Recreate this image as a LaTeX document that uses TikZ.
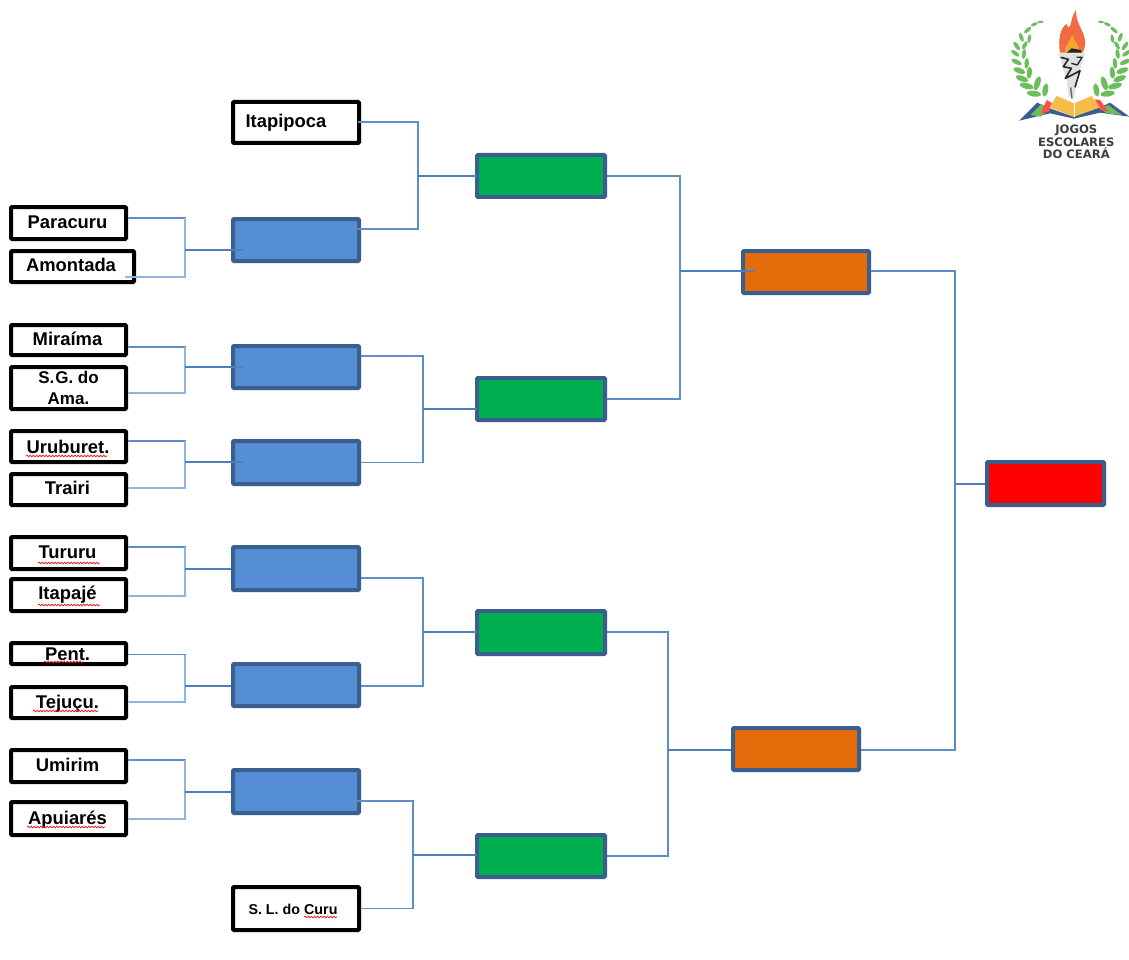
\documentclass[tikz,border=0pt]{standalone}
\usepackage{fontspec}
\setmainfont{Liberation Sans}
\newfontfamily\logofont{DejaVu Sans}
\usetikzlibrary{decorations.pathmorphing}
\definecolor{edgeblue}{HTML}{3A5F8F}
\definecolor{fillblue}{HTML}{558ED5}
\definecolor{linedark}{HTML}{5F8EC6}
\definecolor{linelight}{HTML}{93B5DD}
\definecolor{stemblue}{HTML}{4E7FBB}
\definecolor{leafgreen}{HTML}{6CBE5C}
\definecolor{logogray}{HTML}{3C3C3C}
\definecolor{flameout}{HTML}{F26B43}
\definecolor{flamein}{HTML}{F7A52B}
\definecolor{pagegold}{HTML}{F6BC45}
\tikzset{
  teambox/.style={draw=black,line width=4pt,fill=white,rounded corners=1pt,inner sep=0pt,align=center,
    font=\fontsize{18.4}{22}\selectfont\bfseries},
  roundbox/.style={draw=edgeblue,line width=4pt,rounded corners=1pt,inner sep=0pt},
  armtop/.style={draw=linedark,line width=1.2pt},
  armlow/.style={draw=linelight,line width=2pt},
  stem/.style={draw=stemblue,line width=1.5pt},
  squig/.style={draw=red,line width=.6pt,decorate,decoration={snake,amplitude=.9pt,segment length=3.2pt}},
  logotext/.style={inner sep=0pt,text=logogray,font=\logofont\fontsize{11.6}{12}\selectfont\bfseries}
}
\newcommand{\tl}[3]{\raisebox{-#1pt}[0pt][0pt]{\kern#2pt #3}}
\newcommand{\lf}[4]{\fill[leafgreen,rotate around={#3:(#1,#2)}] (#1,#2) ellipse[x radius=#4,y radius=.42*#4];}
\begin{document}
\begin{tikzpicture}[x=1pt,y=-1pt]
\useasboundingbox (0,0) rectangle (1129,960);
\fill[white] (0,0) rectangle (1129,960);
% team boxes
\node[teambox,minimum width=126pt,minimum height=41pt] (ita) at (296,122.5) {\tl{5.5}{-20}{Itapipoca}};
\node[teambox,minimum width=115pt,minimum height=32pt] (para) at (68.5,223) {\tl{5}{-2}{Paracuru}};
\node[teambox,minimum width=123pt,minimum height=31pt] (amon) at (72.5,266.5) {\tl{4.5}{-3}{Amontada}};
\node[teambox,minimum width=115pt,minimum height=30pt] (mira) at (68.5,340) {\tl{5}{-2}{Miraíma}};
\node[teambox,minimum width=115pt,minimum height=42pt,font=\fontsize{17}{20.5}\selectfont\bfseries] (sg) at (68.5,388) {S.\kern1pt G. do\\[1pt]Ama.};
\node[teambox,minimum width=115pt,minimum height=31pt] (urub) at (68.5,446.5) {\tl{6.5}{-1}{Uruburet.}};
\node[teambox,minimum width=115pt,minimum height=31pt] (trai) at (68.5,489.5) {\tl{5}{-2}{Trairi}};
\node[teambox,minimum width=115pt,minimum height=32pt] (turu) at (68.5,553) {\tl{5}{-2}{Tururu}};
\node[teambox,minimum width=115pt,minimum height=32pt] (itap) at (68.5,595) {\tl{4}{-2}{Itapajé}};
\node[teambox,minimum width=115pt,minimum height=21pt] (pent) at (68.5,653.5) {\tl{6.5}{-2}{Pent.}};
\node[teambox,minimum width=115pt,minimum height=31pt] (teju) at (68.5,702.5) {\tl{5.5}{-2}{Tejuçu.}};
\node[teambox,minimum width=115pt,minimum height=32pt] (umir) at (68.5,766) {\tl{5}{-2}{Umirim}};
\node[teambox,minimum width=115pt,minimum height=33pt] (apui) at (68.5,818.5) {\tl{5.5}{-2}{Apuiarés}};
\node[teambox,minimum width=126pt,minimum height=43pt,font=\fontsize{14.3}{17}\selectfont\bfseries] (curu) at (296,908.5) {\tl{5.5}{-6}{S. L. do Curu}};
% round boxes
\node[roundbox,fill=fillblue,minimum width=126pt,minimum height=42pt] (b1) at (296,240) {};
\node[roundbox,fill=fillblue,minimum width=126pt,minimum height=42pt] (b2) at (296,367) {};
\node[roundbox,fill=fillblue,minimum width=126pt,minimum height=43pt] (b3) at (296,462.5) {};
\node[roundbox,fill=fillblue,minimum width=126pt,minimum height=43pt] (b4) at (296,568.5) {};
\node[roundbox,fill=fillblue,minimum width=126pt,minimum height=42pt] (b5) at (296,685) {};
\node[roundbox,fill=fillblue,minimum width=126pt,minimum height=43pt] (b6) at (296,791.5) {};
\node[roundbox,fill={rgb,255:red,0;green,176;blue,80},minimum width=128pt,minimum height=42pt] (g1) at (541,176) {};
\node[roundbox,fill={rgb,255:red,0;green,176;blue,80},minimum width=128pt,minimum height=42pt] (g2) at (541,399) {};
\node[roundbox,fill={rgb,255:red,0;green,176;blue,80},minimum width=128pt,minimum height=43pt] (g3) at (541,632.5) {};
\node[roundbox,fill={rgb,255:red,0;green,176;blue,80},minimum width=128pt,minimum height=42pt] (g4) at (541,856) {};
\node[roundbox,fill={rgb,255:red,228;green,108;blue,10},minimum width=126pt,minimum height=42pt] (o1) at (806,272) {};
\node[roundbox,fill={rgb,255:red,228;green,108;blue,10},minimum width=126pt,minimum height=42pt] (o2) at (796,749) {};
\node[roundbox,fill=red,minimum width=117pt,minimum height=43pt] (fin) at (1045.5,483.5) {};
% junctions
\coordinate (j1) at (185,250);
\coordinate (j2) at (185,367);
\coordinate (j3) at (185,462);
\coordinate (j4) at (185,569);
\coordinate (j5) at (185,686);
\coordinate (j6) at (185,792);
\coordinate (j7) at (418,176);
\coordinate (j8) at (423,409);
\coordinate (j9) at (423,632);
\coordinate (j10) at (413,855);
\coordinate (j11) at (680,271);
\coordinate (j12) at (668,750);
\coordinate (j13) at (955,484);
% first round
\draw[armtop] ([yshift=5pt]para.east) -| (j1);
\draw[armlow] ([yshift=5pt]para.east -| j1) -- (j1);
\draw[armlow] ([xshift=-11pt,yshift=-10.5pt]amon.east) -| (j1);
\draw[stem] (j1) -- ([xshift=12pt,yshift=-10pt]b1.west);
\draw[armtop] ([yshift=-7pt]mira.east) -| (j2);
\draw[armlow] ([yshift=-7pt]mira.east -| j2) -- (j2);
\draw[armlow] ([yshift=-5pt]sg.east) -| (j2);
\draw[stem] (j2) -- ([xshift=12pt]b2.west);
\draw[armtop] ([yshift=5.5pt]urub.east) -| (j3);
\draw[armlow] ([yshift=5.5pt]urub.east -| j3) -- (j3);
\draw[armlow] ([yshift=1.5pt]trai.east) -| (j3);
\draw[stem] (j3) -- ([xshift=12pt,yshift=.5pt]b3.west);
\draw[armtop] ([yshift=6pt]turu.east) -| (j4);
\draw[armlow] ([yshift=6pt]turu.east -| j4) -- (j4);
\draw[armlow] ([yshift=-1pt]itap.east) -| (j4);
\draw[stem] (j4) -- ([yshift=-.5pt]b4.west);
\draw[armtop] ([yshift=-1pt]pent.east) -| (j5);
\draw[armlow] ([yshift=-1pt]pent.east -| j5) -- (j5);
\draw[armlow] ([yshift=.5pt]teju.east) -| (j5);
\draw[stem] (j5) -- ([yshift=-1pt]b5.west);
\draw[armtop] ([yshift=6pt]umir.east) -| (j6);
\draw[armlow] ([yshift=6pt]umir.east -| j6) -- (j6);
\draw[armlow] (apui.east) -| (j6);
\draw[stem] (j6) -- ([yshift=-.5pt]b6.west);
% second round
\draw[armtop] ([xshift=-3pt,yshift=.5pt]ita.east) -| (j7);
\draw[armtop] ([xshift=-9pt,yshift=11pt]b1.east) -| (j7);
\draw[stem] (j7) -- ([xshift=2pt]g1.west);
\draw[armtop] ([yshift=11pt]b2.east) -| (j8);
\draw[armtop] (b3.east) -| (j8);
\draw[stem] (j8) -- ([xshift=2pt,yshift=-10pt]g2.west);
\draw[armtop] ([yshift=-9.5pt]b4.east) -| (j9);
\draw[armtop] ([yshift=-1pt]b5.east) -| (j9);
\draw[stem] (j9) -- ([xshift=2pt,yshift=.5pt]g3.west);
\draw[armtop] ([xshift=-9pt,yshift=-9.5pt]b6.east) -| (j10);
\draw[armtop] (curu.east) -| (j10);
\draw[stem] (j10) -- ([xshift=2pt,yshift=1pt]g4.west);
% third round
\draw[armtop] (g1.east) -| (j11);
\draw[armtop] (g2.east) -| (j11);
\draw[stem] (j11) -- ([xshift=14pt,yshift=1pt]o1.west);
\draw[armtop] ([yshift=.5pt]g3.east) -| (j12);
\draw[armtop] (g4.east) -| (j12);
\draw[stem] (j12) -- ([yshift=-1pt]o2.west);
\draw[armtop] ([yshift=1pt]o1.east) -| (j13);
\draw[armtop] ([yshift=-1pt]o2.east) -| (j13);
\draw[stem] (j13) -- ([yshift=-.5pt]fin.west);
% spell-check squiggles
\draw[squig] (26,456) -- (107,456);
\draw[squig] (38,563) -- (100,563);
\draw[squig] (38,605) -- (100,605);
\draw[squig] (44,662) -- (84,662);
\draw[squig] (33,711) -- (98,711);
\draw[squig] (27,827) -- (105,827);
\draw[squig] (304,917) -- (337,917);
% logo
\begin{scope}[shift={(1000,0)},x=.3333pt,y=-.3333pt]
  \foreach \a/\b/\c/\d in {122/66/8/9,103/73/25/11,83/90/40/13,88/116/80/13,64/112/-70/14,
      74/136/60/14,50/138/-55/15,72/162/82/15,46/160/-35/15,80/190/85/16,50/186/-25/17,
      88/218/85/18,58/212/-20/19,66/236/-20/20,112/250/72/21,80/258/-15/21,102/281/-8/21,136/270/80/20}
    {\lf{\a}{\b}{\c}{\d}
     \pgfmathsetmacro{\m}{425-\a}\pgfmathsetmacro{\n}{-\c}
     \lf{\m}{\b}{\n}{\d}}
  \fill[flameout] (180,158) .. controls (172,110) and (185,80) .. (200,72)
     .. controls (205,90) and (212,80) .. (215,60) .. controls (218,45) and (225,35) .. (228,30)
     .. controls (228,60) and (238,75) .. (245,90) .. controls (258,115) and (258,140) .. (248,158) -- cycle;
  \fill[flamein] (195,158) .. controls (195,135) and (208,125) .. (217,105)
     .. controls (222,125) and (240,135) .. (238,158) -- cycle;
  \fill[black!85] (200,158) -- (215,145) -- (242,150) -- (245,158) -- cycle;
  \fill[black!12] (175,160) -- (255,160) -- (232,235) -- (222,290) -- (206,290) -- (200,240) -- cycle;
  \draw[black!85,line width=1.6pt,line join=round] (182,172) -- (205,178) -- (190,200) -- (214,205) -- (196,235) -- (222,222) -- (240,212) -- (225,262);
  \draw[black!85,line width=1.3pt,line join=round] (230,172) -- (246,172) -- (232,195) -- (214,190);
  \draw[black!60,line width=1.4pt] (212,262) -- (216,296);
  % book
  \fill[edgeblue] (58,362) -- (112,308) -- (135,320) -- (220,350) -- (305,320) -- (330,308) -- (388,350) -- (300,338) -- (222,356) -- (150,340) -- cycle;
  \fill[leafgreen] (92,345) -- (124,312) -- (150,325) -- (122,350) -- cycle;
  \fill[leafgreen] (300,325) -- (325,315) -- (365,345) -- (320,340) -- cycle;
  \fill[red!70!white] (122,342) -- (140,300) -- (160,312) -- (145,335) -- cycle;
  \fill[red!70!white] (285,298) -- (300,300) -- (325,335) -- (300,330) -- cycle;
  \fill[pagegold] (148,322) -- (170,288) -- (222,310) -- (275,288) -- (300,322) -- (222,350) -- cycle;
  \draw[white,line width=1pt] (222,310) -- (222,350);
  \node[logotext] (lg1) at (229,391) {JOGOS};
  \node[logotext] (lg2) at (229,426) {ESCOLARES};
  \node[logotext] (lg3) at (229,459) {DO CEARÁ};
\end{scope}
\end{tikzpicture}
\end{document}
